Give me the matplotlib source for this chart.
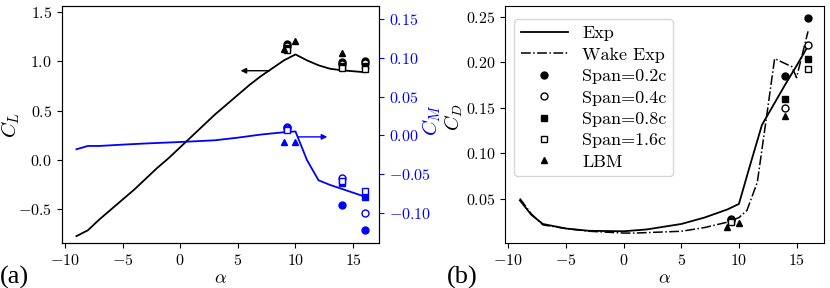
import matplotlib
matplotlib.use("Agg")
import matplotlib.pyplot as plt
from matplotlib.ticker import FuncFormatter

plt.rcParams['font.family'] = ['cmr10', 'DejaVu Serif']
plt.rcParams['mathtext.fontset'] = 'cm'
plt.rcParams['font.size'] = 11.5

# ---- Panel (a) data ----
alpha_exp = [-9, -8, -7, -6, -5, -4, -3, -2, -1, 0, 1, 2, 3, 4, 5, 6, 7, 8, 9, 10,
             11, 12, 13, 14, 15, 16]
cl_exp = [-0.77, -0.71, -0.60, -0.50, -0.40, -0.30, -0.19, -0.08, 0.02, 0.13, 0.24,
          0.35, 0.46, 0.56, 0.66, 0.76, 0.85, 0.93, 1.01, 1.07, 1.01, 0.96, 0.925,
          0.91, 0.90, 0.89]
alpha_cm = [-9, -8, -7, -5, -3, 0, 3, 5, 7, 9, 10, 11, 12, 13, 14, 15, 16]
cm_exp = [-0.018, -0.0137, -0.0137, -0.012, -0.0105, -0.0086, -0.0064, -0.003, 0.001,
          0.004, 0.005, -0.032, -0.058, -0.064, -0.069, -0.074, -0.079]

span_alpha = [9.3, 14, 16]
cl_span02 = [1.18, 0.99, 1.00]
cl_span04 = [1.16, 0.97, 0.98]
cl_span08 = [1.14, 0.95, 0.95]
cl_span16 = [1.12, 0.93, 0.92]
lbm_alpha_cl = [9.0, 10.0, 14.0]
cl_lbm = [1.13, 1.21, 1.08]

cm_span02 = [0.011, -0.090, -0.122]
cm_span04 = [0.010, -0.055, -0.100]
cm_span08 = [0.008, -0.062, -0.079]
cm_span16 = [0.007, -0.059, -0.072]
lbm_alpha_cm = [9.0, 10.0]
cm_lbm = [-0.008, -0.008]

# ---- Panel (b) data ----
alpha_cd = [-9, -8, -7, -5, -3, 0, 2, 5, 7, 9, 10, 11, 12, 13, 14, 15, 16]
cd_exp = [0.048, 0.032, 0.022, 0.017, 0.0145, 0.014, 0.016, 0.022, 0.029, 0.038,
          0.044, 0.088, 0.131, 0.153, 0.175, 0.196, 0.218]
alpha_wake = [-9, -8, -7, -5, -3, 0, 1, 3, 5, 7, 9, 10, 10.7, 11.6, 12.4, 13.1, 14.6,
              15.0, 16.0]
cd_wake = [0.050, 0.033, 0.021, 0.017, 0.014, 0.012, 0.012, 0.013, 0.014, 0.018,
           0.024, 0.029, 0.037, 0.068, 0.140, 0.204, 0.195, 0.183, 0.234]
span_alpha_cd = [9.3, 14, 16]
cd_span02 = [0.028, 0.185, 0.249]
cd_span04 = [0.026, 0.150, 0.219]
cd_span08 = [0.025, 0.159, 0.204]
span16_alpha_cd = [9.3, 16]
cd_span16 = [0.024, 0.193]
lbm_alpha_cd = [9.0, 10.0, 14.0]
cd_lbm = [0.019, 0.023, 0.141]


def mfmt(decimals):
    def f(x, pos):
        s = f'{x:.{decimals}f}'
        if float(s) == 0:
            s = s.lstrip('-')
        return f'${s}$'
    return FuncFormatter(f)


fig = plt.figure(figsize=(8.3, 2.88), dpi=100)
ax1 = fig.add_axes([0.0747, 0.156, 0.382, 0.823])
ax2 = ax1.twinx()
ax3 = fig.add_axes([0.609, 0.156, 0.384, 0.823])

ms = 5
blue = '#0000ff'

# (a) CL
ax1.plot(alpha_exp, cl_exp, color='k', lw=1.3)
ax1.plot(span_alpha, cl_span02, 'o', color='k', ms=ms)
ax1.plot(span_alpha, cl_span04, 'o', mfc='white', mec='k', ms=ms)
ax1.plot(span_alpha, cl_span08, 's', color='k', ms=ms)
ax1.plot(span_alpha, cl_span16, 's', mfc='white', mec='k', ms=ms)
ax1.plot(lbm_alpha_cl, cl_lbm, '^', color='k', ms=ms)
ax1.annotate('', xy=(5.0, 0.905), xytext=(8.0, 0.905),
             arrowprops=dict(arrowstyle='-|>', color='k', lw=1, mutation_scale=8))
ax1.set_ylim(-0.84, 1.56)
ax1.set_xlim(-10.25, 17.25)
ax1.set_yticks([-0.5, 0.0, 0.5, 1.0, 1.5])
ax1.set_xticks([-10, -5, 0, 5, 10, 15])
ax1.yaxis.set_major_formatter(mfmt(1))
ax1.xaxis.set_major_formatter(mfmt(0))
ax1.set_ylabel('$C_L$', fontsize=15)
ax1.yaxis.set_label_coords(-0.126, 0.5)
ax1.set_xlabel(r'$\alpha$', fontsize=13, labelpad=2)

# (a) CM
ax2.plot(alpha_cm, cm_exp, color=blue, lw=1.3)
ax2.plot(span_alpha, cm_span02, 'o', color=blue, ms=ms)
ax2.plot(span_alpha, cm_span04, 'o', mfc='white', mec=blue, ms=ms)
ax2.plot(span_alpha, cm_span08, 's', color=blue, ms=ms)
ax2.plot(span_alpha, cm_span16, 's', mfc='white', mec=blue, ms=ms)
ax2.plot(lbm_alpha_cm, cm_lbm, '^', color=blue, ms=ms)
ax2.annotate('', xy=(13.0, -0.002), xytext=(10.0, -0.002),
             arrowprops=dict(arrowstyle='-|>', color=blue, lw=1, mutation_scale=8))
ax2.set_ylim(-0.139, 0.1668)
ax2.set_yticks([-0.10, -0.05, 0.0, 0.05, 0.10, 0.15])
ax2.yaxis.set_major_formatter(mfmt(2))
ax2.set_ylabel('$C_M$', color=blue, fontsize=15)
ax2.yaxis.set_label_coords(1.129, 0.52)
ax2.tick_params(axis='y', colors=blue)
ax2.spines['right'].set_color('k')

# (b) CD
ax3.plot(alpha_cd, cd_exp, color='k', lw=1.3, label='Exp')
ax3.plot(alpha_wake, cd_wake, color='k', lw=1.1, ls='-.', label='Wake Exp')
ax3.plot(span_alpha_cd, cd_span02, 'o', color='k', ms=ms, label='Span=0.2c')
ax3.plot(span_alpha_cd, cd_span04, 'o', mfc='white', mec='k', ms=ms, label='Span=0.4c')
ax3.plot(span_alpha_cd, cd_span08, 's', color='k', ms=ms, label='Span=0.8c')
ax3.plot(span16_alpha_cd, cd_span16, 's', mfc='white', mec='k', ms=ms, label='Span=1.6c')
ax3.plot(lbm_alpha_cd, cd_lbm, '^', color='k', ms=ms, label='LBM')
ax3.set_xlim(-10.25, 17.4)
ax3.set_ylim(0.001, 0.2618)
ax3.set_yticks([0.05, 0.10, 0.15, 0.20, 0.25])
ax3.set_xticks([-10, -5, 0, 5, 10, 15])
ax3.yaxis.set_major_formatter(mfmt(2))
ax3.xaxis.set_major_formatter(mfmt(0))
ax3.set_ylabel('$C_D$', fontsize=14.5)
ax3.yaxis.set_label_coords(-0.128, 0.53)
ax3.set_xlabel(r'$\alpha$', fontsize=13, labelpad=2)
ax3.legend(loc='upper left', fontsize=13, handlelength=2.6, labelspacing=0.32,
           borderpad=0.35, handletextpad=0.8, bbox_to_anchor=(0.0, 0.982))

fig.text(0.0, 0.015, '(a)', fontsize=19, family=['Liberation Serif'])
fig.text(0.538, 0.015, '(b)', fontsize=19, family=['Liberation Serif'])

fig.savefig('out.png', dpi=100)
